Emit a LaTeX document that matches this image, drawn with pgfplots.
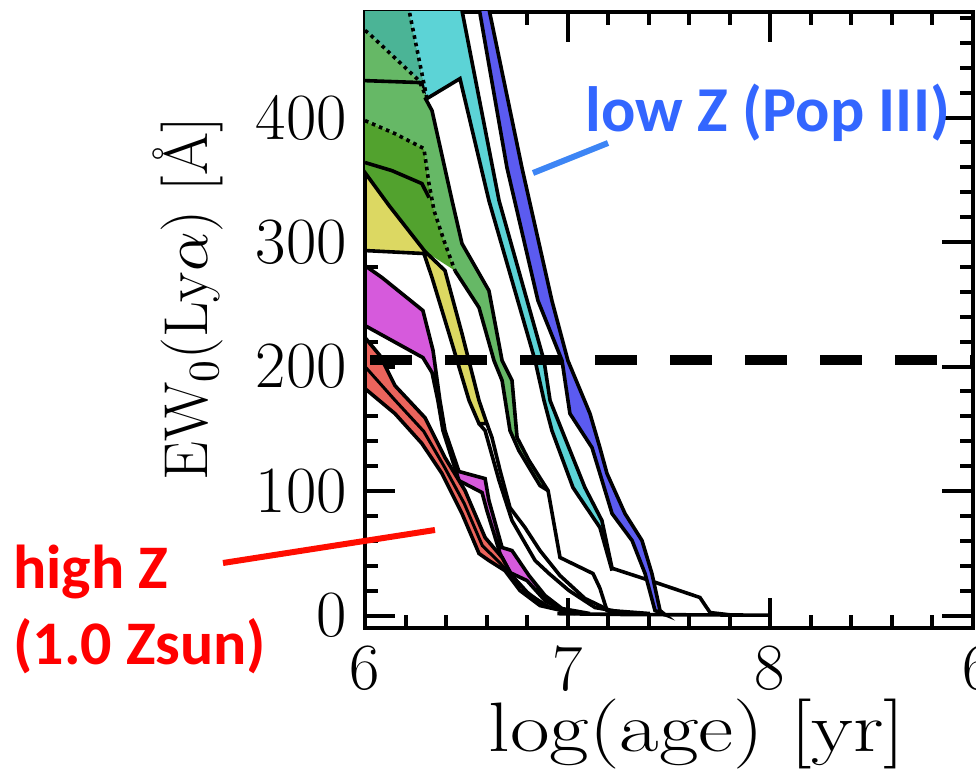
\documentclass[border=0pt]{standalone}
\usepackage{fontspec}
\newfontfamily\annot{Carlito}
\DeclareFontShape{OML}{cmm}{m}{it}{<->cmmi10}{}
\DeclareFontShape{OT1}{cmr}{m}{n}{<->cmr10}{}
\usepackage{pgfplots}
\pgfplotsset{compat=1.18}
\definecolor{cblue}{HTML}{5B5BF0}
\definecolor{ccyan}{HTML}{5CD3D6}
\definecolor{cteal}{HTML}{4BB496}
\definecolor{clgreen}{HTML}{66B866}
\definecolor{cdgreen}{HTML}{52A22E}
\definecolor{cyellow}{HTML}{DCD862}
\definecolor{cmag}{HTML}{D65ADC}
\definecolor{cred}{HTML}{EB645C}
\definecolor{annblue}{HTML}{3366FF}
\definecolor{annline}{HTML}{3D85F5}
\definecolor{annred}{HTML}{FF0000}
\begin{document}
\begin{tikzpicture}
\path[use as bounding box] (0,0) rectangle (488pt,387.5pt);
\begin{axis}[
  at={(182.5pt,73.5pt)}, anchor=south west,
  scale only axis, width=303.75pt, height=308.1pt,
  xmin=6, xmax=9, ymin=-10, ymax=485,
  xtick={6,7,8,9}, xticklabels={6,7,8,},
  minor xtick={6.2,6.4,...,8.8},
  ytick={0,100,200,300,400},
  minor ytick={20,40,...,480},
  tick align=inside,
  major tick length=15pt, minor tick length=6.5pt,
  every tick/.append style={black, line width=2pt},
  axis line style={line width=2pt},
  /pgf/number format/assume math mode=true,
  tick label style={font=\fontsize{33}{36}\selectfont},
  yticklabel style={inner sep=0pt, xshift=-9pt},
  xticklabel style={inner sep=0pt, yshift=-8.5pt},
]
% teal
\addplot[fill=cteal, draw=none] coordinates {
 (6.0,502)(6.198,502)(6.306,415.3)(6.267,429.7)(6.020,467.5)(6.0,470)} -- cycle;
% light green
\addplot[fill=clgreen, draw=none] coordinates {
 (6.0,470)(6.020,467.5)(6.267,429.7)(6.306,415.3)(6.331,405.6)(6.430,333.3)(6.479,298.8)
 (6.612,261.0)(6.677,204.8)(6.726,188.8)(6.751,143.0)(6.810,124.5)(6.904,100.4)
 (6.864,104.4)(6.760,132.5)(6.716,148.6)(6.677,188.8)(6.637,204.8)(6.563,247.4)(6.444,277.1)
 (6.390,301.2)(6.341,325.3)(6.316,347.0)(6.291,375.1)(6.148,387.1)(6.0,397.6)} -- cycle;
% dark green
\addplot[fill=cdgreen, draw=none] coordinates {
 (6.0,397.6)(6.148,387.1)(6.291,375.1)(6.316,347.0)(6.341,325.3)(6.390,301.2)(6.444,277.1)
 (6.296,292.5)(6.119,329.3)(6.0,355.8)} -- cycle;
% yellow
\addplot[fill=cyellow, draw=black, line width=1.8pt] coordinates {
 (6.0,355.8)(6.119,329.3)(6.296,292.5)(6.395,277.1)(6.479,226.5)(6.563,172.7)(6.602,154.2)
 (6.563,154.2)(6.514,172.7)(6.415,226.5)(6.331,271.5)(6.291,290.8)(6.0,293.2)} -- cycle;
\addplot[black, line width=1.8pt] coordinates {
 (6.602,154.2)(6.627,143.0)(6.667,116.5)(6.716,86.7)(6.790,70.7)(6.864,52.2)(6.963,32.1)
 (7.086,13.7)(7.210,4.0)(7.407,1.6)};
\addplot[black, line width=1.8pt] coordinates {
 (6.563,154.2)(6.593,148.6)(6.662,108.4)(6.726,76.3)(6.840,44.2)(6.909,33.7)(7.007,20.1)
 (7.136,6.4)(7.309,1.6)};
% green edges
\addplot[black, line width=1.8pt] coordinates {
 (6.296,416.1)(6.331,405.6)(6.430,333.3)(6.479,298.8)(6.612,261.0)(6.677,204.8)(6.726,188.8)
 (6.751,143.0)(6.810,124.5)(6.904,100.4)(6.963,46.6)(7.126,33.7)(7.16,22)(7.195,4.0)(7.25,1.2)};
\addplot[black, line width=1.8pt] coordinates {
 (6.444,277.1)(6.563,247.4)(6.637,204.8)(6.677,188.8)(6.716,148.6)(6.760,132.5)(6.864,104.4)(6.904,100.4)};
\addplot[black, line width=1.8pt, dotted] coordinates {
 (6.0,470)(6.020,467.5)(6.267,429.7)(6.306,415.3)};
\addplot[black, line width=1.8pt, dotted] coordinates {
 (6.0,397.6)(6.148,387.1)(6.291,375.1)(6.316,347.0)(6.341,325.3)(6.390,301.2)(6.444,277.1)};
\addplot[black, line width=1.8pt] coordinates {(6.0,429.7)(6.281,428.1)(6.306,419.3)};
\addplot[black, line width=1.8pt] coordinates {(6.0,363.9)(6.133,357.4)(6.281,347.0)(6.316,335.7)};
% cyan
\addplot[fill=ccyan, draw=none] coordinates {
 (6.459,502)(6.479,486)(6.662,333.3)(6.884,204.8)(6.914,172.7)(6.973,148.6)(7.086,102.8)
 (7.170,76.3)(7.220,40.2)(7.220,36.1)(7.160,70.7)(7.027,102.8)(6.923,148.6)(6.884,172.7)
 (6.840,204.8)(6.612,333.3)(6.469,431.3)(6.306,415.3)(6.198,502)} -- cycle;
\addplot[black, line width=1.8pt] coordinates {
 (6.459,502)(6.479,486)(6.662,333.3)(6.884,204.8)(6.914,172.7)(6.973,148.6)(7.086,102.8)
 (7.170,76.3)(7.220,38)(7.407,28.1)(7.654,14.5)(7.704,2.4)(7.8,0.6)};
\addplot[black, line width=1.8pt] coordinates {
 (6.306,415.3)(6.469,431.3)(6.612,333.3)(6.840,204.8)(6.884,172.7)(6.923,148.6)(7.027,102.8)
 (7.160,70.7)(7.220,36.1)};
\addplot[black, line width=1.8pt, dotted] coordinates {(6.198,502)(6.306,415.3)};
% blue
\addplot[fill=cblue, draw=black, line width=1.8pt] coordinates {
 (6.593,502)(6.617,483.5)(6.775,359.8)(6.923,253.0)(7.002,204.8)(7.111,162.2)(7.160,134.9)
 (7.195,114.1)(7.284,81.9)(7.368,60.2)(7.417,33.7)(7.457,4.0)(7.481,0.8)
 (7.432,4.0)(7.383,33.7)(7.319,60.2)(7.220,81.9)(7.160,114.1)(7.121,134.9)(7.012,162.2)
 (6.973,204.8)(6.854,253.0)(6.701,359.8)(6.568,483.5)(6.548,502)} -- cycle;
% magenta
\addplot[fill=cmag, draw=black, line width=1.8pt] coordinates {
 (6.0,281.1)(6.084,271.5)(6.286,245.0)(6.336,212.9)(6.370,172.7)(6.395,148.6)(6.464,115.7)
 (6.593,110.0)(6.612,92.4)(6.677,54.6)(6.726,52.2)(6.810,32.1)(6.889,16.1)(6.973,5.6)(7.111,1.6)
 (6.973,4.0)(6.889,12.0)(6.800,28.1)(6.716,34.5)(6.667,49.8)(6.602,84.3)(6.578,98.8)
 (6.464,108.4)(6.385,148.6)(6.360,172.7)(6.331,195.2)(6.286,207.2)(6.0,232.9)} -- cycle;
% red
\addplot[fill=cred, draw=black, line width=1.8pt] coordinates {
 (6.0,223.3)(6.074,208.8)(6.148,184.7)(6.296,159.0)(6.395,126.9)(6.494,100.4)(6.593,62.7)
 (6.677,46.6)(6.726,32.1)(6.815,16.1)(6.914,6.4)(7.037,1.6)
 (6.864,8.0)(6.765,20.1)(6.691,36.1)(6.612,44.2)(6.563,49.8)(6.479,81.9)(6.380,114.1)
 (6.281,138.2)(6.148,162.2)(6.0,182.3)} -- cycle;
\addplot[black, line width=1.5pt] coordinates {
 (6.0,200)(6.148,173)(6.29,148)(6.39,120)(6.49,90)(6.58,56)(6.65,45)(6.72,33)(6.80,19)(6.9,7)(7.04,1.6)};
% curves resting on zero
\addplot[black, line width=1.8pt] coordinates {(6.95,1.5)(7.3,0.8)(8.0,0.3)};
% threshold
\addplot[black, line width=5pt, dash pattern=on 21pt off 16.5pt, dash phase=35pt] coordinates {(6,205)(9,205)};
\end{axis}
\node[anchor=north, inner sep=0pt, font=\fontsize{33}{36}\selectfont] at (489pt,65pt) {6};
\node[rotate=90, font=\fontsize{31}{33}\selectfont] at (94pt,238pt) {EW$_0$(Ly$\alpha$) [Å]};
\node[anchor=base, inner sep=0pt, font=\fontsize{35}{37}\selectfont] at (348.5pt,11.8pt) {\scalebox{1.23}[1]{log(age) [yr]}};
\node[anchor=base west, inner sep=0pt, text=annblue, font=\annot\bfseries\fontsize{32}{34}\selectfont] at (292.5pt,321.5pt) {low Z (Pop III)};
\draw[annline, line width=3pt] (266.5pt,301pt) -- (304pt,316pt);
\node[anchor=base west, inner sep=0pt, text=annred, font=\annot\bfseries\fontsize{31}{34}\selectfont] at (6.5pt,93pt) {high Z};
\node[anchor=base west, inner sep=0pt, text=annred, font=\annot\bfseries\fontsize{31}{34}\selectfont] at (6.5pt,55pt) {(1.0 Zsun)};
\draw[annred!90!orange, line width=3pt] (111.5pt,106pt) -- (217.5pt,122.5pt);
\end{tikzpicture}
\end{document}
